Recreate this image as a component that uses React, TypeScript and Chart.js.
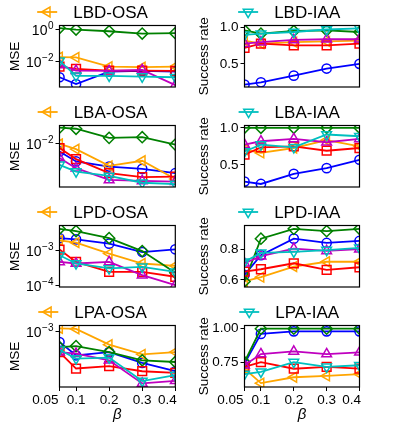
import React, { useEffect, useRef } from 'react';
import { Chart, registerables } from 'chart.js';

Chart.register(...registerables);

const FONT = "'Liberation Sans', Arial, sans-serif";

// ---------------- data ----------------
const betaValues = [0.05, 0.1, 0.2, 0.3, 0.4];
const betaTickLabels = ['0.05', '0.1', '0.2', '0.3', '0.4'];

const seriesNames = ['Circle method', 'Left-triangle method', 'Diamond method', 'Square method', 'Up-triangle method', 'Down-triangle method'];

// LBD-OSA (MSE)
const lbdOsaCircle = [0.00114, 0.00044, 0.00253, 0.0028, 0.00253];
const lbdOsaLeft = [0.0195, 0.0184, 0.0051, 0.0047, 0.0051];
const lbdOsaDiamond = [1.15, 0.93, 0.73, 0.53, 0.56];
const lbdOsaSquare = [0.0051, 0.0037, 0.0029, 0.0029, 0.0028];
const lbdOsaUp = [0.0065, 0.0029, 0.0028, 0.0032, 0.00038];
const lbdOsaDown = [0.0115, 0.00138, 0.00138, 0.00124, 0.00114];

// LBD-IAA (success rate)
const lbdIaaCircle = [0.213, 0.245, 0.337, 0.435, 0.5];
const lbdIaaLeft = [0.82, 0.78, 0.8, 0.81, 0.82];
const lbdIaaDiamond = [0.963, 0.917, 0.954, 0.963, 0.94];
const lbdIaaSquare = [0.72, 0.78, 0.755, 0.755, 0.78];
const lbdIaaUp = [0.78, 0.8, 0.83, 0.84, 0.84];
const lbdIaaDown = [0.9, 0.917, 0.94, 0.975, 0.99];

// LBA-OSA (MSE)
const lbaOsaCircle = [0.0071, 0.0045, 0.00356, 0.0032, 0.00263];
const lbaOsaLeft = [0.01, 0.0079, 0.00368, 0.00464, 0.00202];
const lbaOsaDiamond = [0.021, 0.02, 0.0132, 0.0136, 0.0097];
const lbaOsaSquare = [0.0083, 0.005, 0.00263, 0.00219, 0.00225];
const lbaOsaUp = [0.00525, 0.0033, 0.00193, 0.00185, 0.00179];
const lbaOsaDown = [0.00385, 0.00283, 0.00232, 0.0017, 0.0016];

// LBA-IAA (success rate)
const lbaIaaCircle = [0.273, 0.241, 0.377, 0.455, 0.568];
const lbaIaaLeft = [0.705, 0.66, 0.727, 0.832, 0.75];
const lbaIaaDiamond = [1.0, 1.0, 1.0, 1.0, 1.0];
const lbaIaaSquare = [0.636, 0.736, 0.75, 0.69, 0.727];
const lbaIaaUp = [0.773, 0.818, 0.85, 0.805, 0.85];
const lbaIaaDown = [0.68, 0.773, 0.736, 0.909, 0.886];

// LPD-OSA (MSE)
const lpdOsaCircle = [2.24e-3, 2.06e-3, 1.55e-3, 8.9e-4, 1.07e-3];
const lpdOsaLeft = [1.93e-3, 1.66e-3, 8.05e-4, 4.17e-4, 3.56e-4];
const lpdOsaDiamond = [4.17e-3, 3.56e-3, 2.24e-3, 9.5e-4, 2.24e-4];
const lpdOsaSquare = [1.05e-3, 4.64e-4, 2.4e-4, 2.4e-4, 1.73e-4];
const lpdOsaUp = [4.64e-4, 4.17e-4, 4.64e-4, 1.93e-4, 1.0e-4];
const lpdOsaDown = [7.2e-4, 4.17e-4, 3.0e-4, 3.33e-4, 2.4e-4];

// LPD-IAA (success rate)
const lpdIaaCircle = [0.632, 0.761, 0.869, 0.841, 0.854];
const lpdIaaLeft = [0.589, 0.617, 0.686, 0.718, 0.718];
const lpdIaaDiamond = [0.589, 0.869, 0.933, 0.918, 0.933];
const lpdIaaSquare = [0.654, 0.669, 0.708, 0.665, 0.682];
const lpdIaaUp = [0.708, 0.755, 0.804, 0.789, 0.8];
const lpdIaaDown = [0.718, 0.776, 0.783, 0.794, 0.809];

// LPA-OSA (MSE)
const lpaOsaCircle = [6.97e-4, 4.5e-4, 5.0e-4, 3.49e-4, 2.65e-4];
const lpaOsaLeft = [1.1e-3, 1.08e-3, 6.4e-4, 4.65e-4, 5.0e-4];
const lpaOsaDiamond = [5.9e-4, 6.1e-4, 5.0e-4, 3.81e-4, 3.6e-4];
const lpaOsaSquare = [5.0e-4, 2.9e-4, 3.13e-4, 2.65e-4, 2.51e-4];
const lpaOsaUp = [5.0e-4, 4.75e-4, 3.81e-4, 1.77e-4, 1.93e-4];
const lpaOsaDown = [5.42e-4, 4.03e-4, 4.17e-4, 1.91e-4, 2.33e-4];

// LPA-IAA (success rate)
const lpaIaaCircle = [0.738, 0.961, 0.98, 0.98, 0.98];
const lpaIaaLeft = [0.7, 0.592, 0.636, 0.646, 0.66];
const lpaIaaDiamond = [0.75, 1.0, 1.0, 1.0, 1.0];
const lpaIaaSquare = [0.714, 0.75, 0.7, 0.714, 0.7];
const lpaIaaUp = [0.726, 0.81, 0.83, 0.81, 0.823];
const lpaIaaDown = [0.66, 0.677, 0.75, 0.714, 0.726];

// y tick values and labels
const lbdOsaTicks = [1e-2, 1];
const lbaOsaTicks = [1e-2];
const lpdOsaTicks = [1e-4, 1e-3];
const lpaOsaTicks = [1e-3];
const lbdIaaTicks = [0.5, 1.0];
const lbdIaaTickLabels = ['0.5', '1.0'];
const lbaIaaTicks = [0.5, 1.0];
const lbaIaaTickLabels = ['0.5', '1.0'];
const lpdIaaTicks = [0.6, 0.8];
const lpdIaaTickLabels = ['0.6', '0.8'];
const lpaIaaTicks = [0.75, 1.0];
const lpaIaaTickLabels = ['0.75', '1.00'];

// ---------------- styles ----------------
const seriesStyles = [
  { color: '#0000ff', pointStyle: 'circle', rotation: 0, radius: 4.6 },
  { color: '#ffa500', pointStyle: 'triangle', rotation: -90, radius: 5.6 },
  { color: '#008000', pointStyle: 'rectRot', rotation: 0, radius: 5.6 },
  { color: '#ff0000', pointStyle: 'rect', rotation: 0, radius: 6.2 },
  { color: '#bf00bf', pointStyle: 'triangle', rotation: 0, radius: 5.6 },
  { color: '#00bfbf', pointStyle: 'triangle', rotation: 180, radius: 5.6 },
];

type PanelCfg = {
  name: string;
  row: number;
  col: number;
  yType: 'log' | 'linear';
  yMin: number;
  yMax: number;
  yTicks: number[];
  yTickLabels: string[];
  yTitle: string;
  legendIndex: number;
  series: number[][];
};

const panels: PanelCfg[] = [
  { name: 'LBD-OSA', row: 0, col: 0, yType: 'log', yMin: 2.9e-4, yMax: 1.64, yTicks: lbdOsaTicks, yTickLabels: [], yTitle: 'MSE', legendIndex: 1,
    series: [lbdOsaCircle, lbdOsaLeft, lbdOsaDiamond, lbdOsaSquare, lbdOsaUp, lbdOsaDown] },
  { name: 'LBD-IAA', row: 0, col: 1, yType: 'linear', yMin: 0.18, yMax: 1.03, yTicks: lbdIaaTicks, yTickLabels: lbdIaaTickLabels, yTitle: 'Success rate', legendIndex: 5,
    series: [lbdIaaCircle, lbdIaaLeft, lbdIaaDiamond, lbdIaaSquare, lbdIaaUp, lbdIaaDown] },
  { name: 'LBA-OSA', row: 1, col: 0, yType: 'log', yMin: 0.0014, yMax: 0.0232, yTicks: lbaOsaTicks, yTickLabels: [], yTitle: 'MSE', legendIndex: 1,
    series: [lbaOsaCircle, lbaOsaLeft, lbaOsaDiamond, lbaOsaSquare, lbaOsaUp, lbaOsaDown] },
  { name: 'LBA-IAA', row: 1, col: 1, yType: 'linear', yMin: 0.2, yMax: 1.031, yTicks: lbaIaaTicks, yTickLabels: lbaIaaTickLabels, yTitle: 'Success rate', legendIndex: 5,
    series: [lbaIaaCircle, lbaIaaLeft, lbaIaaDiamond, lbaIaaSquare, lbaIaaUp, lbaIaaDown] },
  { name: 'LPD-OSA', row: 2, col: 0, yType: 'log', yMin: 8.77e-5, yMax: 5.18e-3, yTicks: lpdOsaTicks, yTickLabels: [], yTitle: 'MSE', legendIndex: 1,
    series: [lpdOsaCircle, lpdOsaLeft, lpdOsaDiamond, lpdOsaSquare, lpdOsaUp, lpdOsaDown] },
  { name: 'LPD-IAA', row: 2, col: 1, yType: 'linear', yMin: 0.553, yMax: 0.955, yTicks: lpdIaaTicks, yTickLabels: lpdIaaTickLabels, yTitle: 'Success rate', legendIndex: 5,
    series: [lpdIaaCircle, lpdIaaLeft, lpdIaaDiamond, lpdIaaSquare, lpdIaaUp, lpdIaaDown] },
  { name: 'LPA-OSA', row: 3, col: 0, yType: 'log', yMin: 1.57e-4, yMax: 1.21e-3, yTicks: lpaOsaTicks, yTickLabels: [], yTitle: 'MSE', legendIndex: 1,
    series: [lpaOsaCircle, lpaOsaLeft, lpaOsaDiamond, lpaOsaSquare, lpaOsaUp, lpaOsaDown] },
  { name: 'LPA-IAA', row: 3, col: 1, yType: 'linear', yMin: 0.563, yMax: 1.024, yTicks: lpaIaaTicks, yTickLabels: lpaIaaTickLabels, yTitle: 'Success rate', legendIndex: 5,
    series: [lpaIaaCircle, lpaIaaLeft, lpaIaaDiamond, lpaIaaSquare, lpaIaaUp, lpaIaaDown] },
];

// ---------------- layout ----------------
const LEFT_W = 195;
const RIGHT_W = 204;
const ROW_H = 100;
const LAST_ROW_H = 126;
const AREA_TOP = 25.5;
const AREA_BOTTOM = 87;

function drawMarker(ctx: CanvasRenderingContext2D, s: typeof seriesStyles[number], x: number, y: number) {
  ctx.save();
  ctx.strokeStyle = s.color;
  ctx.lineWidth = 1.5;
  ctx.beginPath();
  const r = s.radius;
  if (s.pointStyle === 'circle') {
    ctx.arc(x, y, r, 0, Math.PI * 2);
  } else if (s.pointStyle === 'rect') {
    const h = r * Math.SQRT1_2;
    ctx.rect(x - h, y - h, 2 * h, 2 * h);
  } else if (s.pointStyle === 'rectRot') {
    ctx.moveTo(x, y - r); ctx.lineTo(x + r, y); ctx.lineTo(x, y + r); ctx.lineTo(x - r, y); ctx.closePath();
  } else {
    let rad = (s.rotation * Math.PI) / 180;
    for (let i = 0; i < 3; i++) {
      const px = x + Math.sin(rad) * r;
      const py = y - Math.cos(rad) * r;
      if (i === 0) ctx.moveTo(px, py); else ctx.lineTo(px, py);
      rad += (2 * Math.PI) / 3;
    }
    ctx.closePath();
  }
  ctx.stroke();
  ctx.restore();
}

function Panel({ panel }: { panel: PanelCfg }) {
  const ref = useRef<HTMLCanvasElement>(null);
  const isLeft = panel.col === 0;
  const isBottom = panel.row === 3;
  const w = isLeft ? LEFT_W : RIGHT_W;
  const h = isBottom ? LAST_ROW_H : ROW_H;
  const left = isLeft ? 0 : LEFT_W;
  const top = panel.row * ROW_H;

  useEffect(() => {
    const canvas = ref.current!;
    const yAxisWidth = isLeft ? 59.5 : 49.5;
    const rightPad = isLeft ? 19.7 : 39.5;
    const xAxisHeight = isBottom ? h - AREA_BOTTOM : 0;
    const bottomPad = isBottom ? 0 : h - AREA_BOTTOM;
    const legendCx = isLeft ? 92.5 : 94.2;

    const deco = {
      id: 'panelDeco',
      afterDraw(chart: any) {
        const ctx: CanvasRenderingContext2D = chart.ctx;
        const ca = chart.chartArea;
        ctx.save();
        // frame
        ctx.strokeStyle = '#000';
        ctx.lineWidth = 1.2;
        ctx.strokeRect(ca.left, ca.top, ca.right - ca.left, ca.bottom - ca.top);
        ctx.fillStyle = '#000';
        // log tick labels 10^p
        if (panel.yType === 'log') {
          const ys = chart.scales.y;
          panel.yTicks.forEach((v) => {
            const y = ys.getPixelForValue(v);
            const p = Math.round(Math.log10(v));
            const expText = p < 0 ? '\u2212' + String(-p) : String(p);
            const right = ca.left - 6;
            ctx.textAlign = 'right';
            ctx.textBaseline = 'alphabetic';
            ctx.font = `10px ${FONT}`;
            const ew = ctx.measureText(expText).width;
            ctx.fillText(expText, right, y - 0.5);
            ctx.font = `14px ${FONT}`;
            ctx.fillText('10', right - ew - 0.5, y + 5.5);
          });
        }
        // x tick labels on bottom row
        if (isBottom) {
          const xs = chart.scales.x;
          ctx.font = `13.5px ${FONT}`;
          ctx.textBaseline = 'middle';
          betaValues.forEach((b, i) => {
            const x = xs.getPixelForValue(b);
            if (i === 0) {
              ctx.textAlign = 'right';
              ctx.fillText(betaTickLabels[i], x - 1, 100);
            } else if (i === betaValues.length - 1) {
              ctx.textAlign = 'right';
              ctx.fillText(betaTickLabels[i], x + 1.5, 100);
            } else {
              ctx.textAlign = 'center';
              ctx.fillText(betaTickLabels[i], x, 100);
            }
          });
        }
        // legend (single entry)
        const s = seriesStyles[panel.legendIndex];
        ctx.font = `17px ${FONT}`;
        const tw = ctx.measureText(panel.name).width;
        const lineLen = 20;
        const gap = 16;
        const total = lineLen + gap + tw;
        const x0 = legendCx - total / 2;
        ctx.strokeStyle = s.color;
        ctx.lineWidth = 1.8;
        ctx.beginPath();
        ctx.moveTo(x0, 12);
        ctx.lineTo(x0 + lineLen, 12);
        ctx.stroke();
        drawMarker(ctx, s, x0 + lineLen / 2, 12);
        ctx.fillStyle = '#000';
        ctx.textAlign = 'left';
        ctx.textBaseline = 'middle';
        ctx.fillText(panel.name, x0 + lineLen + gap, 13);
        ctx.restore();
      },
    };

    const zeroPad = (scale: any) => {
      scale.paddingLeft = 0;
      scale.paddingRight = 0;
      scale.paddingTop = 0;
      scale.paddingBottom = 0;
    };

    const chart = new Chart(canvas, {
      type: 'line',
      data: {
        datasets: seriesStyles.map((s, i) => ({
          label: i === panel.legendIndex ? panel.name : seriesNames[i],
          data: betaValues.map((b, j) => ({ x: b, y: panel.series[i][j] })),
          borderColor: s.color,
          backgroundColor: 'rgba(0,0,0,0)',
          pointBackgroundColor: 'rgba(0,0,0,0)',
          pointBorderColor: s.color,
          pointStyle: s.pointStyle as any,
          pointRotation: s.rotation,
          pointRadius: s.radius,
          pointBorderWidth: 1.5,
          borderWidth: 1.8,
          tension: 0,
          fill: false,
          clip: 0,
          order: seriesStyles.length - i,
        })),
      },
      options: {
        animation: false,
        responsive: false,
        devicePixelRatio: 1,
        events: [],
        layout: {
          autoPadding: false,
          padding: { left: 0, right: rightPad, top: AREA_TOP, bottom: bottomPad },
        },
        plugins: {
          legend: { display: false },
          tooltip: { enabled: false },
          title: { display: false },
        },
        scales: {
          x: {
            type: 'linear',
            display: isBottom,
            min: 0.05,
            max: 0.4,
            afterBuildTicks: (scale: any) => {
              scale.ticks = betaValues.map((v) => ({ value: v }));
            },
            afterFit: (scale: any) => {
              scale.height = xAxisHeight;
              zeroPad(scale);
            },
            border: { display: false },
            grid: { display: true, drawOnChartArea: false, drawTicks: true, tickLength: 4, color: '#000', lineWidth: 1 },
            ticks: { display: true, callback: () => '' , font: { family: FONT, size: 13.5 }, color: '#000' },
            title: {
              display: isBottom,
              text: 'β',
              color: '#000',
              font: { family: FONT, size: 15, style: 'italic' },
              padding: { top: 0, bottom: 2 },
            },
          },
          y: {
            type: panel.yType === 'log' ? 'logarithmic' : 'linear',
            min: panel.yMin,
            max: panel.yMax,
            afterBuildTicks: (scale: any) => {
              scale.ticks = panel.yTicks.map((v) => ({ value: v }));
            },
            afterFit: (scale: any) => {
              scale.width = yAxisWidth;
              zeroPad(scale);
            },
            border: { display: false },
            grid: { display: true, drawOnChartArea: false, drawTicks: true, tickLength: 4, color: '#000', lineWidth: 1 },
            ticks: {
              display: true,
              padding: 2,
              color: '#000',
              font: { family: FONT, size: 13.5 },
              callback: (_v: any, idx: number) => (panel.yType === 'log' ? '' : panel.yTickLabels[idx]),
            },
            title: {
              display: true,
              text: panel.yTitle,
              color: '#000',
              font: { family: FONT, size: 13.5 },
              padding: { top: isLeft ? 6.9 : 0.9, bottom: 0 },
            },
          },
        },
      },
      plugins: [deco],
    } as any);
    return () => chart.destroy();
  }, [panel]);

  return (
    <canvas
      ref={ref}
      width={w}
      height={h}
      style={{ position: 'absolute', left, top, width: w, height: h, display: 'block' }}
    />
  );
}

export default function App() {
  return (
    <div style={{ position: 'absolute', left: 0, top: 0, width: 399, height: 426, background: '#ffffff', overflow: 'hidden' }}>
      {panels.map((p) => (
        <Panel key={p.name} panel={p} />
      ))}
    </div>
  );
}
